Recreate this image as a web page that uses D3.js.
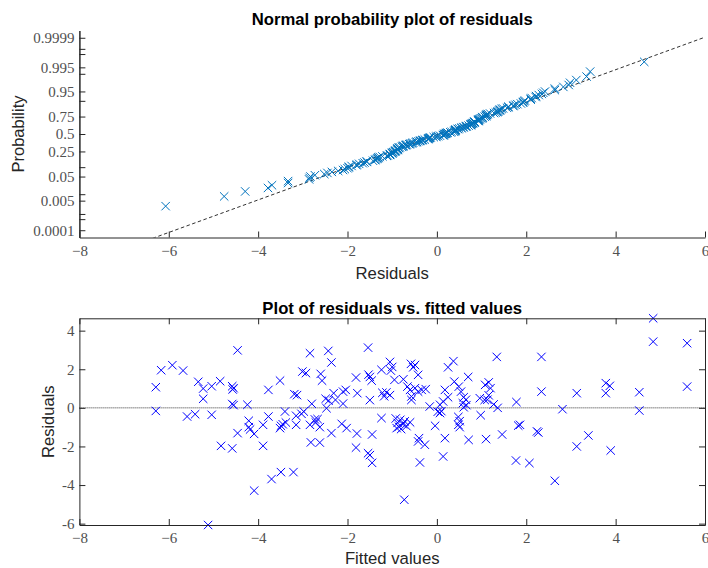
<!DOCTYPE html>
<html>
<head>
<meta charset="utf-8">
<script src="https://cdn.jsdelivr.net/npm/d3@7"></script>
<style>
	body { margin: 0; background: #fff; }
	svg { display: block; }
</style>
</head>
<body>
<script>
// fitted values and residuals (same order)
const fittedValues = [
	-6.29, -6.29, -6.17, -5.92, -5.68, -5.59, -5.41, -5.34, -5.23, -5.23,
	-5.12, -5.04, -5.04, -4.85, -4.83, -4.58, -4.55, -4.57, -4.58, -4.55,
	-4.58, -4.46, -4.46, -4.24, -4.21, -4.21, -4.18, -4.09, -4.09, -3.89,
	-3.89, -3.77, -3.77, -3.7, -3.51, -3.49, -3.51, -3.49, -3.45, -3.4,
	-3.38, -3.21, -3.19, -3.13, -3.15, -3.15, -3.03, -2.98, -3.01, -2.93,
	-2.84, -2.84, -2.82, -2.8, -2.73, -2.67, -2.71, -2.62, -2.62, -2.6,
	-2.57, -2.43, -2.36, -2.49, -2.42, -2.31, -2.27, -2.47, -2.36, -2.1,
	-2.04, -2.13, -2.02, -2.1, -1.81, -1.78, -1.79, -1.81, -1.54, -1.53,
	-1.5, -1.46, -1.5, -1.45, -1.54, -1.5, -1.45, -1.24, -1.22, -1.18,
	-1.13, -1.05, -1.24, -1.05, -1.0, -1.03, -0.95, -0.92, -0.88, -0.82,
	-0.85, -0.76, -0.72, -0.9, -0.8, -0.68, -0.6, -0.73, -0.75, -0.66,
	-0.6, -0.57, -0.57, -0.49, -0.58, -0.49, -0.53, -0.42, -0.42, -0.34,
	-0.25, -0.4, -0.42, -0.27, -0.38, -0.16, -0.04, 0.02, 0.07, 0.1,
	0.14, 0.18, 0.18, 0.14, 0.25, 0.07, 0.25, 0.37, 0.39, 0.49,
	0.54, 0.6, 0.65, 0.58, 0.66, 0.6, 0.7, 0.48, 0.51, 0.48,
	0.51, 0.71, 0.98, 0.96, 1.07, 1.08, 1.16, 1.2, 1.16, 1.13,
	1.27, 1.1, 1.34, 1.36, 1.46, 1.78, 1.82, 1.86, 1.77, 2.07,
	2.24, 2.27, 2.34, 2.34, 2.64, 2.81, 3.13, 3.13, 3.39, 3.78,
	3.87, 3.78, 3.89, 4.53, 4.53, 4.84, 4.84, 5.6, 5.6
];
const residuals = [
	1.07, -0.16, 1.95, 2.21, 1.93, -0.45, -0.33, 1.35, 1.0, 0.47,
	-6.07, 1.12, -0.36, 1.38, -1.97, 1.12, 1.02, 0.95, 0.2, 0.14,
	-2.1, 2.98, -1.31, 0.16, -0.67, -1.0, -1.12, -1.35, -4.29, -0.88,
	-1.97, 0.93, -0.45, -3.69, 1.41, -3.33, -1.05, -0.93, -0.85, -0.19,
	-0.76, -3.33, 0.71, 0.66, -0.41, -0.88, -0.31, -0.19, 1.88, 1.8,
	2.83, -0.88, -1.79, 0.21, -0.6, -0.58, -0.76, -1.0, -1.8, 1.76,
	1.41, 2.95, 2.35, 0.47, 0.38, 0.76, 0.41, -0.02, -1.31, 0.84,
	0.93, -0.83, -1.05, 0.22, 1.57, 0.76, -1.33, -2.06, 3.12, 1.72,
	1.6, 1.41, 0.4, -1.38, -2.35, -2.45, -2.85, 1.97, 0.78, 0.6,
	0.8, 0.66, -0.53, 2.38, 2.12, 1.93, 1.45, -0.55, -0.78, -0.62,
	-0.98, -0.85, -0.7, -1.05, -1.1, -0.95, -0.75, -4.76, 1.48, 1.1,
	0.93, 0.59, 0.41, 1.02, 2.28, 2.22, 2.1, 1.71, 0.84, 0.93,
	0.97, -1.57, -1.74, -1.91, -2.83, 0.07, -0.93, -0.2, -0.27, -0.17,
	-2.52, -1.57, 0.93, 0.33, 0.55, 0.16, 2.1, 2.42, 1.36, 1.1,
	0.84, 0.55, 0.42, 0.24, 0.14, 0.03, 1.6, -0.47, -0.69, -0.88,
	-1.0, -1.66, -0.38, 0.5, 0.41, 1.19, 1.32, 1.02, 0.65, 0.42,
	0.18, -1.62, 2.64, 0.0, -1.38, 0.3, -0.92, -0.88, -2.73, -2.86,
	-1.22, -1.28, 2.64, 0.84, -3.78, -0.07, 0.76, -2.0, -1.43, 1.28,
	1.14, 0.76, -2.21, 0.81, -0.14, 4.64, 3.43, 3.35, 1.1
];

// normal reference line
const refMean = 0.05;
const refSigma = 1.59;

const xTicks = [-8, -6, -4, -2, 0, 2, 4, 6];
const residTicks = [-6, -4, -2, 0, 2, 4];
const probTicks = [0.0001, 0.005, 0.05, 0.25, 0.5, 0.75, 0.95, 0.995, 0.9999];
const probTickLabels = ["0.0001", "0.005", "0.05", "0.25", "0.5", "0.75", "0.95", "0.995", "0.9999"];
const probMinorTicks = [0.0005, 0.001, 0.01, 0.1, 0.9, 0.99, 0.999, 0.9995];

const width = 708;
const height = 568;
const left = 79.4;
const right = 705;
const topPlot = { top: 30.5, bottom: 237.5 };
const botPlot = { top: 318.3, bottom: 525 };
const tickLen = 6;
const axisColor = "#262626";
const labelColor = "#505050";
const serif = "'Liberation Serif', 'DejaVu Serif', serif";
const sans = "'Liberation Sans', Arial, sans-serif";

document.addEventListener("DOMContentLoaded", () => {
	let svg = d3.select("body")
		.append("svg")
		.attr("width", width)
		.attr("height", height);

	drawProbPlot(svg);
	drawResidPlot(svg);
});

// inverse normal cdf (Acklam's approximation)
function probit(p) {
	const a = [-3.969683028665376e1, 2.209460984245205e2, -2.759285104469687e2, 1.38357751867269e2, -3.066479806614716e1, 2.506628277459239];
	const b = [-5.447609879822406e1, 1.615858368580409e2, -1.556989798598866e2, 6.680131188771972e1, -1.328068155288572e1];
	const c = [-7.784894002430293e-3, -3.223964580411365e-1, -2.400758277161838, -2.549732539343734, 4.374664141464968, 2.938163982698783];
	const d = [7.784695709041462e-3, 3.224671290700398e-1, 2.445134137142996, 3.754408661907416];
	const pLow = 0.02425;
	let q, r;
	if (p < pLow) {
		q = Math.sqrt(-2 * Math.log(p));
		return (((((c[0] * q + c[1]) * q + c[2]) * q + c[3]) * q + c[4]) * q + c[5]) /
			((((d[0] * q + d[1]) * q + d[2]) * q + d[3]) * q + 1);
	}
	if (p <= 1 - pLow) {
		q = p - 0.5;
		r = q * q;
		return (((((a[0] * r + a[1]) * r + a[2]) * r + a[3]) * r + a[4]) * r + a[5]) * q /
			(((((b[0] * r + b[1]) * r + b[2]) * r + b[3]) * r + b[4]) * r + 1);
	}
	q = Math.sqrt(-2 * Math.log(1 - p));
	return -(((((c[0] * q + c[1]) * q + c[2]) * q + c[3]) * q + c[4]) * q + c[5]) /
		((((d[0] * q + d[1]) * q + d[2]) * q + d[3]) * q + 1);
}

function minusFmt(d) {
	return d < 0 ? "\u2212" + Math.abs(d) : String(d);
}

function styleAxis(g) {
	g.select(".domain").attr("stroke", axisColor).attr("stroke-width", 1);
	g.selectAll(".tick line").attr("stroke", axisColor).attr("stroke-width", 1);
	g.selectAll(".tick text")
		.attr("fill", labelColor)
		.style("font-family", serif)
		.style("font-size", "15px");
}

function crossPath(s) {
	return "M" + -s + "," + -s + "L" + s + "," + s + "M" + -s + "," + s + "L" + s + "," + -s;
}

function addText(svg, x, y, str, size, bold, rotate) {
	let t = svg.append("text")
		.attr("transform", "translate(" + x + "," + y + ")" + (rotate ? " rotate(-90)" : ""))
		.attr("text-anchor", "middle")
		.attr("fill", bold ? "#000" : axisColor)
		.style("font-family", sans)
		.style("font-size", size + "px")
		.text(str);
	if (bold) t.style("font-weight", "bold");
}

function drawProbPlot(svg) {
	let xScale = d3.scaleLinear().domain([-8, 6]).range([left, right]);
	let zScale = d3.scaleLinear().domain([-4, 4]).range([topPlot.bottom, topPlot.top]);

	let sorted = residuals.slice().sort(d3.ascending);
	let n = sorted.length;
	let points = sorted.map((r, i) => [r, probit((i + 0.5) / n)]);

	svg.append("clipPath")
		.attr("id", "clip-top")
		.append("rect")
		.attr("x", left)
		.attr("y", topPlot.top)
		.attr("width", right - left)
		.attr("height", topPlot.bottom - topPlot.top);

	svg.append("path")
		.attr("clip-path", "url(#clip-top)")
		.attr("d", d3.line()
			.x((d) => xScale(d))
			.y((d) => zScale((d - refMean) / refSigma))(xScale.domain()))
		.attr("fill", "none")
		.attr("stroke", "#1a1a1a")
		.attr("stroke-width", 0.9)
		.attr("stroke-dasharray", "3.5,2.5");

	svg.append("g")
		.selectAll("path")
		.data(points)
		.enter()
		.append("path")
		.attr("transform", (d) => "translate(" + xScale(d[0]) + "," + zScale(d[1]) + ")")
		.attr("d", crossPath(4.2))
		.attr("fill", "none")
		.attr("stroke", "#0072BD")
		.attr("stroke-width", 1);

	let xAxis = svg.append("g")
		.attr("transform", "translate(0," + topPlot.bottom + ")")
		.call(d3.axisBottom(xScale)
			.tickValues(xTicks)
			.tickFormat(minusFmt)
			.tickSizeInner(-tickLen)
			.tickSizeOuter(0)
			.tickPadding(7.5));
	styleAxis(xAxis);

	let yMinor = svg.append("g")
		.attr("transform", "translate(" + left + ",0)")
		.call(d3.axisLeft(zScale)
			.tickValues(probMinorTicks.map(probit))
			.tickFormat("")
			.tickSizeInner(-tickLen)
			.tickSizeOuter(0));
	styleAxis(yMinor);

	let yAxis = svg.append("g")
		.attr("transform", "translate(" + left + ",0)")
		.call(d3.axisLeft(zScale)
			.tickValues(probTicks.map(probit))
			.tickFormat((d, i) => probTickLabels[i])
			.tickSizeInner(-tickLen)
			.tickSizeOuter(0)
			.tickPadding(5));
	styleAxis(yAxis);

	addText(svg, (left + right) / 2, 25, "Normal probability plot of residuals", 16.7, true);
	addText(svg, (left + right) / 2, 278.5, "Residuals", 16.7);
	addText(svg, 24, (topPlot.top + topPlot.bottom) / 2, "Probability", 16.5, false, true);
}

function drawResidPlot(svg) {
	let xScale = d3.scaleLinear().domain([-8, 6]).range([left, right]);
	let yScale = d3.scaleLinear().domain(d3.extent(residuals)).range([botPlot.bottom, botPlot.top]);

	svg.append("line")
		.attr("x1", left)
		.attr("x2", right)
		.attr("y1", yScale(0))
		.attr("y2", yScale(0))
		.attr("stroke", "#333")
		.attr("stroke-width", 1)
		.attr("stroke-dasharray", "1,1");

	svg.append("g")
		.selectAll("path")
		.data(fittedValues)
		.enter()
		.append("path")
		.attr("transform", (d, i) => "translate(" + xScale(d) + "," + yScale(residuals[i]) + ")")
		.attr("d", crossPath(4.2))
		.attr("fill", "none")
		.attr("stroke", "#0000FF")
		.attr("stroke-width", 1);

	let xAxis = svg.append("g")
		.attr("transform", "translate(0," + botPlot.bottom + ")")
		.call(d3.axisBottom(xScale)
			.tickValues(xTicks)
			.tickFormat(minusFmt)
			.tickSizeInner(-tickLen)
			.tickSizeOuter(0)
			.tickPadding(7.5));
	styleAxis(xAxis);

	let xTop = svg.append("g")
		.attr("transform", "translate(0," + botPlot.top + ")")
		.call(d3.axisTop(xScale)
			.tickValues(xTicks)
			.tickFormat("")
			.tickSizeInner(-tickLen)
			.tickSizeOuter(0));
	styleAxis(xTop);

	let yAxis = svg.append("g")
		.attr("transform", "translate(" + left + ",0)")
		.call(d3.axisLeft(yScale)
			.tickValues(residTicks)
			.tickFormat((d) => String(d))
			.tickSizeInner(-tickLen)
			.tickSizeOuter(0)
			.tickPadding(5));
	styleAxis(yAxis);

	let yRight = svg.append("g")
		.attr("transform", "translate(" + right + ",0)")
		.call(d3.axisRight(yScale)
			.tickValues(residTicks)
			.tickFormat("")
			.tickSizeInner(-tickLen)
			.tickSizeOuter(0));
	styleAxis(yRight);

	addText(svg, (left + right) / 2, 313.5, "Plot of residuals vs. fitted values", 16.7, true);
	addText(svg, (left + right) / 2, 563.5, "Fitted values", 16.7);
	addText(svg, 54, (botPlot.top + botPlot.bottom) / 2, "Residuals", 16.5, false, true);
}
</script>
</body>
</html>
